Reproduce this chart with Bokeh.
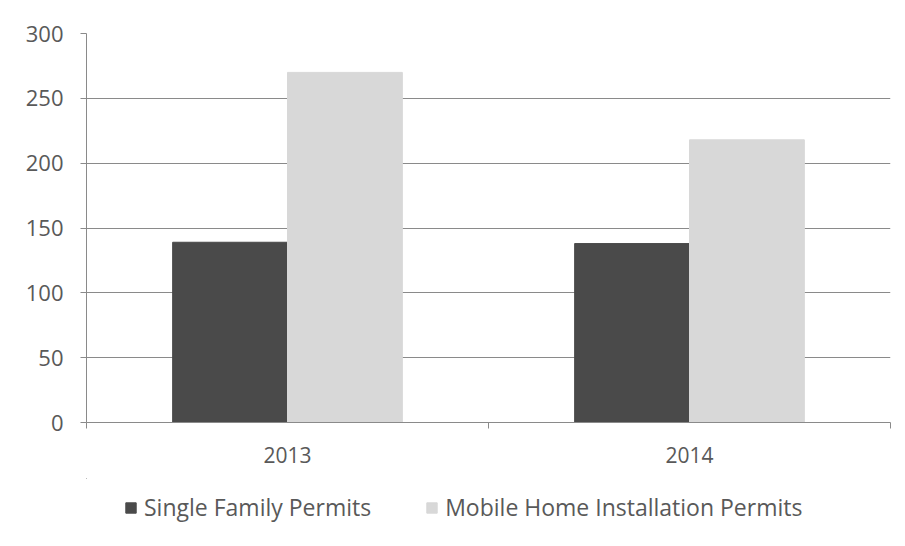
from bokeh.plotting import figure
from bokeh.models import ColumnDataSource, FixedTicker, Legend, LegendItem, Range1d
from bokeh.layouts import column
from bokeh.embed import file_html
from bokeh.resources import INLINE

years = ["2013", "2014"]
single_family = [139, 138]
mobile_home = [270, 218]
series_names = ["Single Family Permits", "Mobile Home Installation Permits"]
y_ticks = [0, 50, 100, 150, 200, 250, 300]

FONT = "Open Sans"
TEXT = "#595959"
GRID = "#8a8a8a"
DARK = "#4a4a4a"
LIGHT = "#d8d8d8"

bar_w = 1 / 3.5  # Excel gap width 150%
centers = [i + 0.5 for i in range(len(years))]
src = ColumnDataSource(dict(
    x1=[c - bar_w / 2 for c in centers],
    x2=[c + bar_w / 2 for c in centers],
    sf=single_family,
    mh=mobile_home,
))

p = figure(frame_width=804, frame_height=389, output_backend="svg", toolbar_location=None,
           x_range=Range1d(0, len(years)), y_range=Range1d(0, 300),
           min_border_left=86, min_border_right=15, min_border_top=33,
           min_border_bottom=56)
p.outline_line_color = None
p.background_fill_color = "white"
p.border_fill_color = "white"

p.vbar(x="x1", top="sf", width=bar_w, source=src, fill_color=DARK, line_color=DARK)
p.vbar(x="x2", top="mh", width=bar_w, source=src, fill_color=LIGHT, line_color=LIGHT)

# x axis
xa = p.xaxis[0]
xa.ticker = FixedTicker(ticks=centers, minor_ticks=list(range(len(years) + 1)))
xa.major_label_overrides = {c: y for c, y in zip(centers, years)}
xa.major_tick_out = 0
xa.major_tick_in = 0
xa.minor_tick_out = 6
xa.minor_tick_in = 0
xa.axis_line_color = GRID
xa.minor_tick_line_color = GRID
xa.major_label_text_font = FONT
xa.major_label_text_font_size = "21px"
xa.major_label_text_color = TEXT
xa.major_label_standoff = 18

# y axis
ya = p.yaxis[0]
ya.ticker = FixedTicker(ticks=y_ticks)
ya.major_tick_out = 6
ya.major_tick_in = 0
ya.minor_tick_line_color = None
ya.axis_line_color = GRID
ya.major_tick_line_color = GRID
ya.major_label_text_font = FONT
ya.major_label_text_font_size = "22px"
ya.major_label_text_color = TEXT
ya.major_label_standoff = 17

p.xgrid.grid_line_color = None
p.ygrid.grid_line_color = GRID
p.ygrid.ticker = FixedTicker(ticks=y_ticks[1:])

# legend strip (separate figure below the chart; its bars lie outside its ranges)
lf = figure(width=905, height=60, output_backend="svg", toolbar_location=None,
            x_range=Range1d(100, 101), y_range=Range1d(-1000, -999),
            min_border=0)
lf.axis.visible = False
lf.grid.visible = False
lf.outline_line_color = None
lf.border_fill_color = "white"
lf.background_fill_color = "white"
lr1 = lf.vbar(x="x1", top="sf", width=bar_w, source=src, fill_color=DARK, line_color=DARK)
lr2 = lf.vbar(x="x2", top="mh", width=bar_w, source=src, fill_color=LIGHT, line_color=LIGHT)

legend = Legend(items=[LegendItem(label=series_names[0], renderers=[lr1]),
                       LegendItem(label=series_names[1], renderers=[lr2])],
                orientation="horizontal", location=(38, 15),
                label_text_font=FONT, label_text_font_size="23px",
                label_text_color=TEXT, glyph_width=13, glyph_height=13,
                label_standoff=7, spacing=54, border_line_color=None,
                background_fill_alpha=0, margin=0, padding=8)
lf.add_layout(legend)

layout = column(p, lf, spacing=0)
open("out.html", "w").write(file_html(layout, INLINE))
